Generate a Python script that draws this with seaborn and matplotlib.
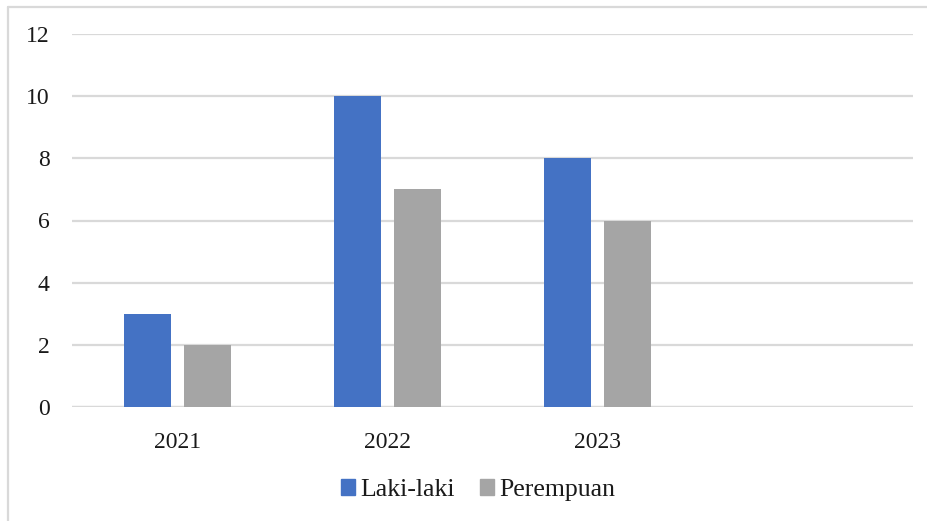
import matplotlib
matplotlib.use("Agg")
import matplotlib.pyplot as plt
from matplotlib.lines import Line2D
import seaborn as sns
import pandas as pd

# Jumlah per tahun menurut jenis kelamin
years = ["2021", "2022", "2023"]
laki_laki = [3, 10, 8]
perempuan = [2, 7, 6]
series_names = ["Laki-laki", "Perempuan"]
y_ticks = [0, 2, 4, 6, 8, 10, 12]

df = pd.DataFrame({
    "Tahun": years * 2,
    "Jumlah": laki_laki + perempuan,
    "Jenis": [series_names[0]] * len(years) + [series_names[1]] * len(years),
})

sns.set_style("white")
plt.rcParams["font.family"] = ["Liberation Serif", "DejaVu Serif"]

colors = {"Laki-laki": "#4472C4", "Perempuan": "#A5A5A5"}
grid_color = "#D9D9D9"
text_color = "#1a1a1a"

fig = plt.figure(figsize=(9.27, 5.21), dpi=100)
ax = fig.add_axes([72 / 927, 1 - 407 / 521, (913 - 72) / 927, (407 - 34) / 521])

sns.barplot(data=df, x="Tahun", y="Jumlah", hue="Jenis", order=years,
            hue_order=series_names, palette=colors, width=0.571, gap=0.216,
            saturation=1, linewidth=0, ax=ax, legend=False, zorder=3)

ax.set_xlim(-0.5, 3.5)
ax.set_ylim(0, 12)
ax.set_yticks(y_ticks)
ax.set_yticklabels([str(t) for t in y_ticks])
ax.yaxis.grid(True, color=grid_color, linewidth=1.6, zorder=0)
ax.set_axisbelow(True)
for s in ax.spines.values():
    s.set_visible(False)
ax.axhline(0, color=grid_color, linewidth=1.6, zorder=1)

ax.set_xlabel("")
ax.set_ylabel("")
ax.tick_params(axis="both", length=0, labelsize=17, labelcolor=text_color)
ax.tick_params(axis="y", pad=16)
ax.tick_params(axis="x", pad=18)

handles = [plt.Rectangle((0, 0), 1, 1, color=colors[n]) for n in series_names]
fig.legend(handles, series_names, loc="center",
           bbox_to_anchor=(478 / 927, 1 - 490 / 521), ncol=2, frameon=False,
           fontsize=18.5, handlelength=0.55, handleheight=0.55, handletextpad=0.2,
           columnspacing=1.0, labelcolor=text_color)

# Bingkai tipis kiri dan atas
fig.add_artist(Line2D([8 / 927, 8 / 927], [0, 1 - 7 / 521], color=grid_color,
                      linewidth=1.6, transform=fig.transFigure))
fig.add_artist(Line2D([8 / 927, 1], [1 - 7 / 521, 1 - 7 / 521], color=grid_color,
                      linewidth=1.6, transform=fig.transFigure))

fig.savefig("out.png", dpi=100, facecolor="white")
